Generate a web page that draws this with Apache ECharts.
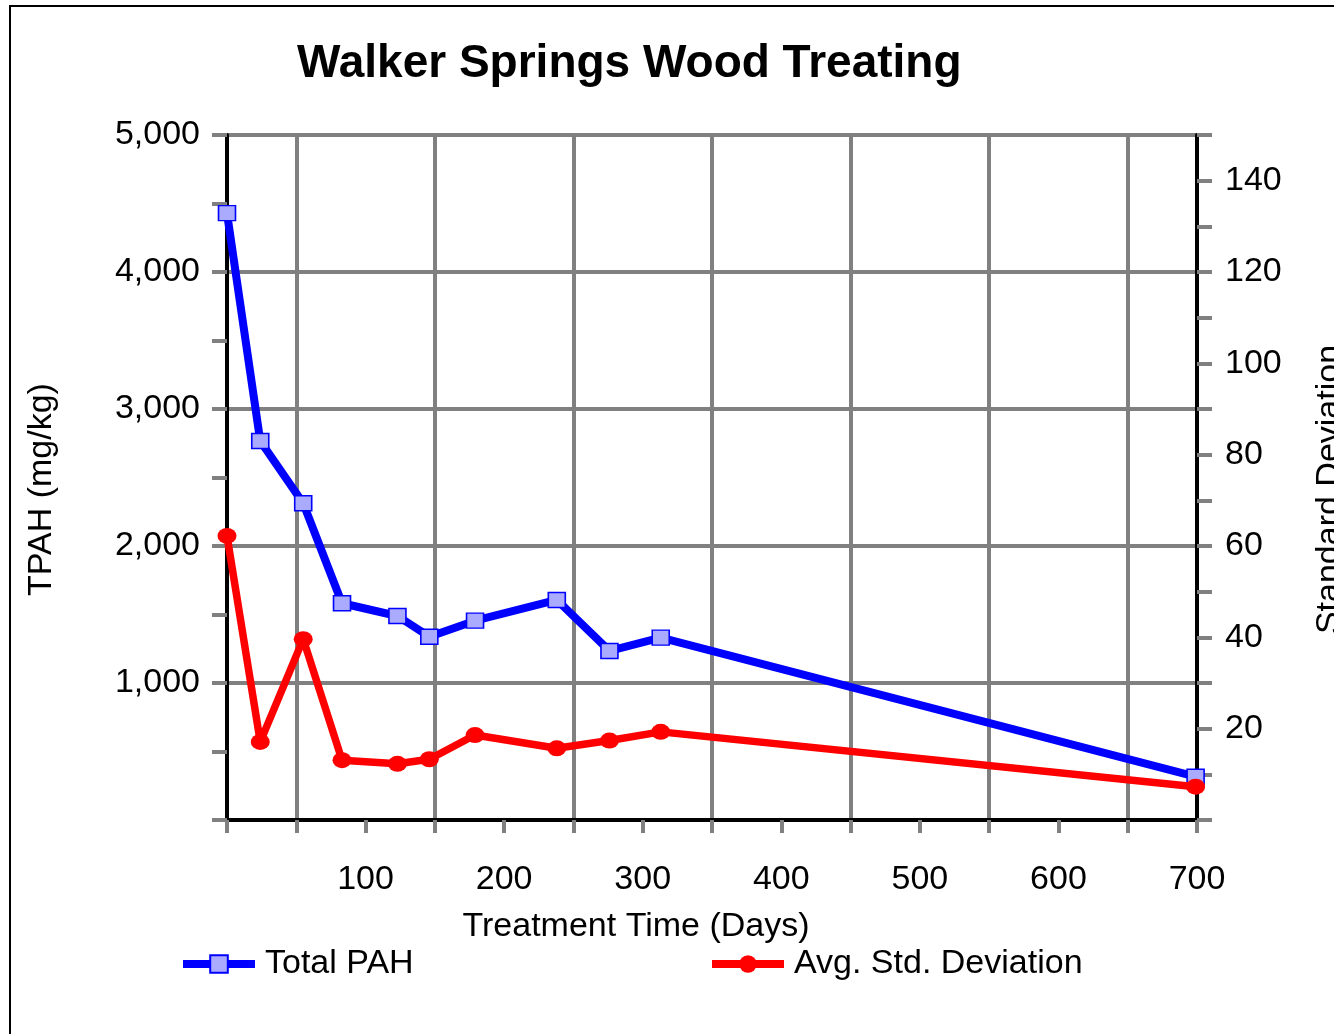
<!DOCTYPE html>
<html>
<head>
<meta charset="utf-8">
<script src="https://cdn.jsdelivr.net/npm/echarts@6/dist/echarts.min.js"></script>
<style>
  html, body { margin: 0; padding: 0; background: #fff; }
  #chart { width: 1334px; height: 1034px; }
</style>
</head>
<body>
<div id="chart"></div>
<script>
  // treatment time (days)
  const days = [0, 24, 55, 83, 123, 146, 179, 238, 276, 313, 699]
  // Total PAH (mg/kg), left axis
  const totalPah = [4430, 2766, 2312, 1582, 1489, 1338, 1455, 1606, 1234, 1331, 316]
  // average standard deviation, right axis
  const avgStdDev = [62.2, 17.1, 39.6, 13.1, 12.3, 13.3, 18.6, 15.7, 17.4, 19.3, 7.3]

  const font = 'Liberation Sans, Arial, sans-serif'
  const gray = '#808080'

  const pair = (xs, ys) => xs.map((x, i) => [x, ys[i]])

  const chart = echarts.init(document.getElementById('chart'))
  const option = {
    animation: false,
    backgroundColor: '#fff',
    title: {
      text: 'Walker Springs Wood Treating',
      left: 297,
      top: 41,
      padding: 0,
      textStyle: { fontFamily: font, fontSize: 46, fontWeight: 'bold', color: '#000' }
    },
    graphic: [
      {
        type: 'rect',
        shape: { x: 10, y: 6, width: 1400, height: 1100 },
        style: { fill: 'none', stroke: '#000', lineWidth: 2 },
        silent: true
      }
    ],
    legend: [
      {
        data: [{
          name: 'Total PAH',
          lineStyle: { color: '#0000ff', width: 8 },
          itemStyle: { color: '#aaaaff', borderColor: '#0000ff', borderWidth: 2 }
        }],
        left: 179,
        top: 947,
        padding: 0,
        itemWidth: 72,
        itemHeight: 22,
        textStyle: { fontFamily: font, fontSize: 34, color: '#000', padding: [0, 0, 0, 5] }
      },
      {
        data: [{
          name: 'Avg. Std. Deviation',
          lineStyle: { color: '#ff0000', width: 8 },
          itemStyle: { color: '#ff0000' }
        }],
        left: 708,
        top: 947,
        padding: 0,
        itemWidth: 72,
        itemHeight: 22,
        textStyle: { fontFamily: font, fontSize: 34, color: '#000', padding: [0, 0, 0, 5] }
      }
    ],
    grid: {
      left: 227,
      right: 137,
      top: 135,
      bottom: 214,
      outerBoundsMode: 'none',
      containLabel: false,
      show: true,
      borderColor: '#000',
      borderWidth: 4,
      backgroundColor: 'transparent'
    },
    xAxis: {
      type: 'value',
      min: 0,
      max: 700,
      interval: 100,
      name: 'Treatment Time (Days)',
      nameLocation: 'middle',
      nameGap: 90,
      nameTextStyle: { fontFamily: font, fontSize: 34, color: '#000', padding: [0, 152, 0, 0] },
      axisLine: { lineStyle: { color: '#000', width: 4 } },
      axisTick: { show: true, length: 13, lineStyle: { color: gray, width: 4 } },
      minorTick: { show: true, splitNumber: 2, length: 13, lineStyle: { color: gray, width: 4 } },
      splitLine: { show: false },
      minorSplitLine: { show: true, lineStyle: { color: gray, width: 4 } },
      axisLabel: {
        margin: 43,
        fontFamily: font,
        fontSize: 34,
        color: '#000',
        formatter: v => (v > 0 ? String(v) : '')
      }
    },
    yAxis: [
      {
        type: 'value',
        position: 'left',
        min: 0,
        max: 5000,
        interval: 1000,
        name: 'TPAH (mg/kg)',
        nameLocation: 'middle',
        nameGap: 168,
        nameTextStyle: { fontFamily: font, fontSize: 34, color: '#000', padding: [0, 24, 0, 0] },
        axisLine: { show: true, lineStyle: { color: '#000', width: 4 } },
        axisTick: { show: true, length: 15, lineStyle: { color: gray, width: 4 } },
        minorTick: { show: true, splitNumber: 2, length: 15, lineStyle: { color: gray, width: 4 } },
        splitLine: { show: true, lineStyle: { color: gray, width: 4 } },
        axisLabel: {
          margin: 27,
          fontFamily: font,
          fontSize: 34,
          color: '#000',
          formatter: v => (v > 0 ? v.toLocaleString('en-US') : '')
        }
      },
      {
        type: 'value',
        position: 'right',
        min: 0,
        max: 150,
        interval: 10,
        name: 'Standard Deviation',
        nameLocation: 'middle',
        nameGap: 116,
        nameTextStyle: { fontFamily: font, fontSize: 34, color: '#000', padding: [0, 24, 0, 0] },
        axisLine: { show: true, lineStyle: { color: '#000', width: 4 } },
        axisTick: { show: true, length: 15, lineStyle: { color: gray, width: 4 } },
        splitLine: { show: false },
        axisLabel: {
          margin: 28,
          fontFamily: font,
          fontSize: 34,
          color: '#000',
          formatter: v => (v > 0 && v < 150 && v % 20 === 0 ? String(v) : '')
        }
      }
    ],
    series: [
      {
        name: 'Total PAH',
        type: 'line',
        yAxisIndex: 0,
        data: pair(days, totalPah),
        symbol: 'rect',
        symbolSize: [17, 15],
        lineStyle: { color: '#0000ff', width: 8 },
        itemStyle: { color: '#aaaaff', borderColor: '#0000ff', borderWidth: 1.5 },
        z: 3
      },
      {
        name: 'Avg. Std. Deviation',
        type: 'line',
        yAxisIndex: 1,
        data: pair(days, avgStdDev),
        symbol: 'circle',
        symbolSize: [19, 16],
        lineStyle: { color: '#ff0000', width: 7.5 },
        itemStyle: { color: '#ff0000', borderColor: '#ff0000', borderWidth: 0 },
        z: 4
      }
    ]
  }
  chart.setOption(option)
</script>
</body>
</html>
